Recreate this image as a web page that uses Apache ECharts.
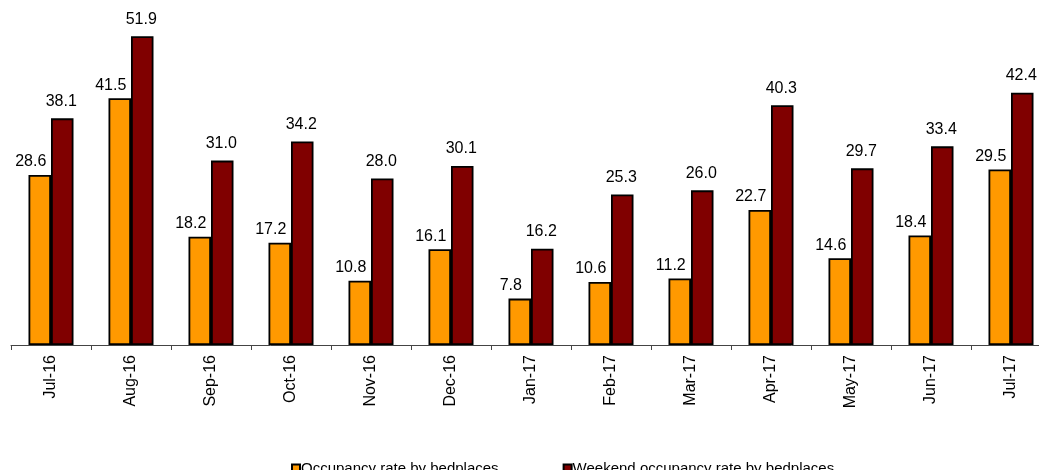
<!DOCTYPE html>
<html>
<head>
<meta charset="utf-8">
<script src="https://cdn.jsdelivr.net/npm/echarts@6/dist/echarts.min.js"></script>
<style>
html,body{margin:0;padding:0;background:#fff;overflow:hidden;width:1039px;height:470px;}
#chart{width:1052px;height:470px;}
</style>
</head>
<body>
<div id="chart"></div>
<script>
const categories = ['Jul-16','Aug-16','Sep-16','Oct-16','Nov-16','Dec-16','Jan-17','Feb-17','Mar-17','Apr-17','May-17','Jun-17','Jul-17'];
const occupancy = [28.6, 41.5, 18.2, 17.2, 10.8, 16.1, 7.8, 10.6, 11.2, 22.7, 14.6, 18.4, 29.5];
const weekendOccupancy = [38.1, 51.9, 31.0, 34.2, 28.0, 30.1, 16.2, 25.3, 26.0, 40.3, 29.7, 33.4, 42.4];
const seriesNames = ['Occupancy rate by bedplaces', 'Weekend occupancy rate by bedplaces'];

const FONT = 'Liberation Sans, Arial, sans-serif';
const chart = echarts.init(document.getElementById('chart'), null, {renderer: 'canvas'});
chart.setOption({
  animation: false,
  backgroundColor: '#ffffff',
  textStyle: {fontFamily: FONT},
  grid: {left: 11, top: 0, width: 1040, height: 345, containLabel: false},
  legend: {
    left: 286, top: 456,
    itemWidth: 8, itemHeight: 8, itemGap: 64,
    icon: 'rect',
    textStyle: {fontFamily: FONT, fontSize: 15, color: '#000', padding: [0,0,0,-4]},
    data: seriesNames
  },
  xAxis: {
    type: 'category',
    data: categories,
    axisLine: {lineStyle: {color: '#444', width: 1}},
    axisTick: {show: true, length: 5, lineStyle: {color: '#444'}},
    axisLabel: {rotate: 90, margin: 10, fontFamily: FONT, fontSize: 16, color: '#000'}
  },
  yAxis: {
    type: 'value', min: 0, max: 58,
    show: false, splitLine: {show: false}
  },
  series: [
    {
      name: seriesNames[0], type: 'bar', data: occupancy,
      barWidth: 22.5, barGap: '0%',
      itemStyle: {color: '#FF9900', borderColor: '#000', borderWidth: 1.8},
      label: {show: true, position: 'top', distance: 5, offset: [-9, 0],
        fontFamily: FONT, fontSize: 16, color: '#000',
        formatter: p => p.value.toFixed(1)}
    },
    {
      name: seriesNames[1], type: 'bar', data: weekendOccupancy,
      barWidth: 22.5, barGap: '0%',
      itemStyle: {color: '#800000', borderColor: '#000', borderWidth: 1.8},
      label: {show: true, position: 'top', distance: 9, offset: [-1, 0],
        fontFamily: FONT, fontSize: 16, color: '#000',
        formatter: p => p.value.toFixed(1)}
    }
  ]
});
</script>
</body>
</html>
